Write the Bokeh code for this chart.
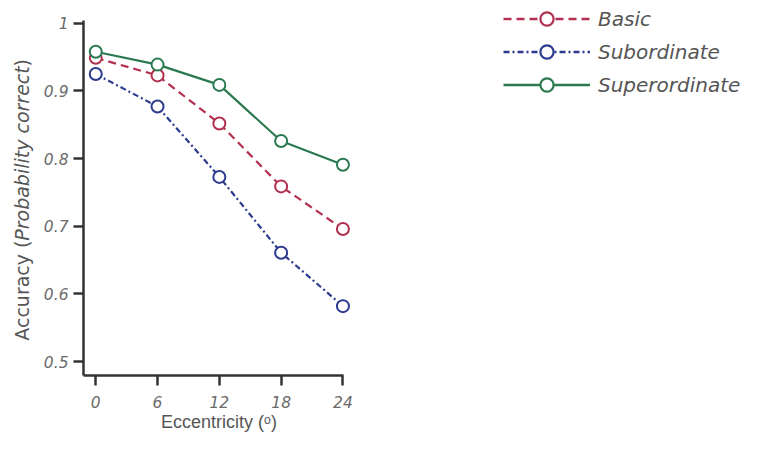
import numpy as np
from bokeh.plotting import figure
from bokeh.layouts import row
from bokeh.models import (FixedTicker, CustomJSTickFormatter, Label, Legend, LegendItem,
                          Range1d, ColumnDataSource)
from bokeh.embed import file_html
from bokeh.resources import INLINE

eccentricity = [0, 6, 12, 18, 24]
basic = [0.949, 0.923, 0.852, 0.759, 0.696]
subordinate = [0.925, 0.877, 0.773, 0.661, 0.582]
superordinate = [0.958, 0.939, 0.909, 0.826, 0.791]
series_names = ["Basic", "Subordinate", "Superordinate"]
x_ticks = [0, 6, 12, 18, 24]
y_ticks = [0.5, 0.6, 0.7, 0.8, 0.9, 1.0]

colors = ["#b2304f", "#2c3b8e", "#2b7a4f"]
dashes = ["8 5", "6 3 2 3", "solid"]

FONT = "DejaVu Sans"
H = 434
LW = 40           # strip holding the y-axis title
MW = 314          # main plot
RW = 744 - LW - MW  # legend strip
FRAME_BOTTOM = 378

# ---- strip with the y-axis title (normal + italic parts) ----
yl = figure(width=LW, height=H, output_backend="svg", toolbar_location=None,
            x_range=Range1d(0, 1), y_range=Range1d(0, 1),
            min_border_left=0, min_border_right=0, min_border_top=0,
            min_border_bottom=H - FRAME_BOTTOM)
yl.axis.visible = False
yl.grid.visible = False
yl.outline_line_color = None
fs = 19
yc = 222
half = 87
common = dict(x=21, x_units="screen", y_units="screen", angle=np.pi / 2,
              text_font=FONT, text_font_size=f"{fs}px", text_color="#555555",
              text_baseline="middle")
yl.add_layout(Label(y=yc, text="Probability correct", text_font_style="italic",
                    text_align="center", **common))
yl.add_layout(Label(y=yc - half, text="Accuracy (", text_font_style="normal",
                    text_align="right", **common))
yl.add_layout(Label(y=yc + half, text=")", text_font_style="normal",
                    text_align="left", **common))

# ---- main plot ----
x_start, x_axis_end = -1.19, 24.1
px_per_x = 10.375
x_end = x_start + (MW - (81 - LW)) / px_per_x
y_lo, y_axis_hi = 0.4795, 1.0044
px_per_y = 682.0
y_hi = 1.0 + 23 / px_per_y

p = figure(width=MW, height=H, output_backend="svg", toolbar_location=None,
           x_range=Range1d(x_start, x_end), y_range=Range1d(y_lo, y_hi),
           min_border_left=81 - LW, min_border_right=0, min_border_top=0,
           min_border_bottom=H - FRAME_BOTTOM)
p.outline_line_color = None
p.grid.visible = False

series = [basic, subordinate, superordinate]
for name, vals, c, d in zip(series_names, series, colors, dashes):
    src = ColumnDataSource(dict(x=eccentricity, y=vals))
    p.line("x", "y", source=src, line_color=c, line_width=2.2, line_dash=d)
    p.scatter("x", "y", source=src, marker="circle", size=12, line_color=c,
              line_width=2, fill_color="white")

for ax in (p.xaxis[0], p.yaxis[0]):
    ax.axis_line_color = "#333333"
    ax.axis_line_width = 2.5
    ax.major_tick_line_color = "#333333"
    ax.major_tick_line_width = 2.5
    ax.major_tick_out = 10
    ax.major_tick_in = 0
    ax.minor_tick_line_color = None
    ax.major_label_text_font = FONT
    ax.major_label_text_font_style = "italic"
    ax.major_label_text_color = "#6a6a6a"
    ax.major_label_text_font_size = "15.5px"

p.xaxis.bounds = (x_start, x_axis_end)
p.yaxis.bounds = (y_lo, y_axis_hi)
p.xaxis.ticker = FixedTicker(ticks=x_ticks)
p.yaxis.ticker = FixedTicker(ticks=y_ticks)
p.yaxis.formatter = CustomJSTickFormatter(code="return tick > 0.99 ? '1' : tick.toFixed(1);")
p.xaxis.major_label_standoff = 10
p.yaxis.major_label_standoff = 5

p.xaxis.axis_label = "Eccentricity (\u1d52)"
p.xaxis.axis_label_text_font = "Liberation Sans"
p.xaxis.axis_label_text_font_style = "normal"
p.xaxis.axis_label_text_font_size = "18px"
p.xaxis.axis_label_text_color = "#555555"
p.xaxis.axis_label_standoff = 1

# ---- legend strip (same series, drawn outside this strip's view; only the key shows) ----
lg = figure(width=RW, height=H, output_backend="svg", toolbar_location=None,
            x_range=Range1d(1000, 1001), y_range=Range1d(1000, 1001),
            min_border_left=500 - (LW + MW), min_border_right=0, min_border_top=0,
            min_border_bottom=H - FRAME_BOTTOM)
lg.axis.visible = False
lg.grid.visible = False
lg.outline_line_color = None
items = []
for name, vals, c, d in zip(series_names, series, colors, dashes):
    src = ColumnDataSource(dict(x=eccentricity, y=vals))
    ln = lg.line("x", "y", source=src, line_color=c, line_width=2.4, line_dash=d)
    sc = lg.scatter("x", "y", source=src, marker="circle", size=13, line_color=c,
                    line_width=2.2, fill_color="white")
    items.append(LegendItem(label=name, renderers=[ln, sc]))
legend = Legend(items=items, location=(3, 274), orientation="vertical",
                glyph_width=87, glyph_height=33, spacing=0, padding=0, margin=0,
                label_standoff=8, label_text_font=FONT, label_text_font_style="italic",
                label_text_font_size="20px", label_text_color="#555555",
                border_line_color=None, background_fill_alpha=0)
lg.add_layout(legend, "center")

layout = row(yl, p, lg, spacing=0)
open("out.html", "w").write(file_html(layout, INLINE))
